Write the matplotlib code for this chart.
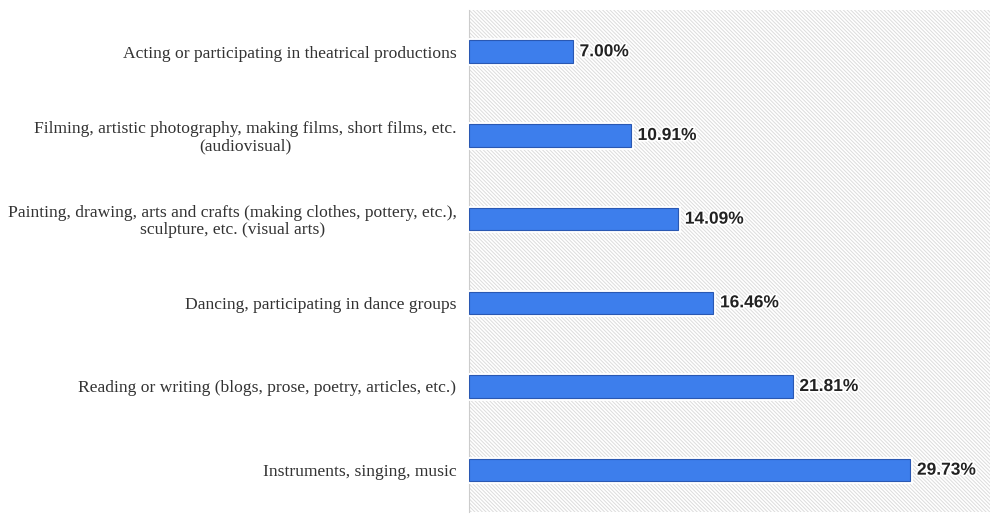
import numpy as np
import matplotlib.pyplot as plt
import matplotlib.patheffects as pe
from matplotlib.patches import Rectangle

# categories (top to bottom) and their shares in %
categories = [
    'Acting or participating in theatrical productions',
    'Filming, artistic photography, making films, short films, etc.\n(audiovisual)',
    'Painting, drawing, arts and crafts (making clothes, pottery, etc.),\nsculpture, etc. (visual arts)',
    'Dancing, participating in dance groups',
    'Reading or writing (blogs, prose, poetry, articles, etc.)',
    'Instruments, singing, music',
]
values = [7.00, 10.91, 14.09, 16.46, 21.81, 29.73]

plt.rcParams['hatch.linewidth'] = 0.7
plt.rcParams['hatch.color'] = '#dcdcdc'

fig = plt.figure(figsize=(10, 5.23), dpi=100)
ax = fig.add_axes([0.469, 0.021, 0.521, 0.960])

# hatched plot background
bg = Rectangle((0, 0), 1, 1, transform=ax.transAxes, facecolor='white',
               edgecolor='#dcdcdc', hatch='\\' * 9, linewidth=0, zorder=0)
ax.add_patch(bg)

y = np.arange(len(categories))
bars = ax.barh(y, values, height=0.27, color='#3d7eec', edgecolor='#2a58b2',
               linewidth=0.8, zorder=3)
for b in bars:
    b.set_path_effects([pe.Stroke(linewidth=3.5, foreground='white'), pe.Normal()])

for yi, v in zip(y, values):
    ax.text(v + 0.45, yi, f'{v:.2f}%', va='center', ha='left', fontsize=12.5,
            fontweight='bold', color='#222222', family='Liberation Sans', zorder=4,
            path_effects=[pe.withStroke(linewidth=2.5, foreground='white')])

ax.set_xlim(0, 35.1)
ax.set_ylim(len(categories) - 0.5, -0.5)
ax.set_yticks(y)
ax.set_yticklabels(categories, fontsize=12.6, family='Liberation Serif', color='#333333')
for t in ax.get_yticklabels():
    t.set_multialignment('center')
    t.set_linespacing(1.05)
ax.tick_params(axis='y', length=0, pad=9)
ax.set_xticks([])
for s in ['top', 'right', 'bottom']:
    ax.spines[s].set_visible(False)
ax.spines['left'].set_color('#cccccc')
ax.spines['left'].set_linewidth(0.8)

plt.savefig('out.png', dpi=100)
